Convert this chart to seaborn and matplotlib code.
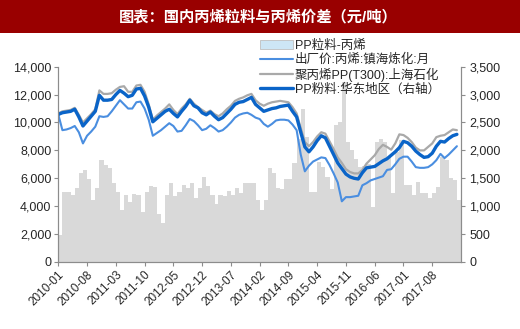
import matplotlib
matplotlib.use("Agg")
import matplotlib.pyplot as plt
from matplotlib.patches import Rectangle, Patch
from matplotlib.lines import Line2D
from matplotlib.ticker import FuncFormatter
import seaborn as sns
import pandas as pd
import numpy as np

sns.set_style("white")
plt.rcParams['font.family'] = ['Liberation Sans', 'Noto Sans CJK SC', 'DejaVu Sans']

title = "图表：国内丙烯粒料与丙烯价差（元/吨）"
series_names = ["PP粒料-丙烯", "出厂价:丙烯:镇海炼化:月", "聚丙烯PP(T300):上海石化", "PP粉料:华东地区（右轴）"]

# month index 0 = 2010-01 ... 97 = 2018-02
tick_pos = [0, 7, 14, 21, 28, 35, 42, 49, 56, 63, 70, 77, 84, 91]
tick_labels = ["2010-01", "2010-08", "2011-03", "2011-10", "2012-05", "2012-12", "2013-07",
               "2014-02", "2014-09", "2015-04", "2015-11", "2016-06", "2017-01", "2017-08"]

spread = [480, 1260, 1260, 1200, 1320, 1600, 1640, 1490, 1120, 1320,
          1830, 1740, 1680, 1410, 1260, 940, 1200, 1080, 1210, 1200,
          900, 1260, 1360, 1350, 860, 690, 1200, 1410, 1190, 1260,
          1380, 1320, 1410, 1140, 1320, 1530, 1360, 1200, 1040, 1200,
          1190, 1270, 1200, 1320, 1230, 1410, 1410, 1410, 1110, 930,
          1110, 1680, 1590, 1330, 1300, 1480, 1480, 1770, 2200, 2750,
          2240, 1260, 1260, 1790, 1710, 1530, 1300, 2450, 2500, 3230,
          2150, 2000, 1850, 1700, 1720, 1750, 990, 2150, 2200, 2150,
          1880, 1230, 1970, 2180, 1380, 1380, 1200, 1440, 1230, 1230,
          1140, 1230, 1350, 1890, 1830, 1500, 1470, 1110]

propylene = [10580, 9450, 9500, 9600, 9750, 9300, 8500, 9050, 9350, 9700,
             10450, 10400, 10450, 10800, 11200, 11600, 11300, 11000, 11000, 11450,
             11500, 11000, 10200, 9050, 9250, 9450, 9700, 9950, 9750, 9350,
             9400, 9800, 10250, 10100, 9800, 9450, 9550, 9800, 9600, 9350,
             9450, 9700, 10000, 10350, 10550, 10650, 10700, 10550, 10350, 10250,
             9900, 9700, 9900, 10150, 10200, 10200, 10150, 9850, 9450, 7700,
             6500, 6900, 7200, 7350, 7500, 7450, 6950, 6350, 5700, 4350,
             4650, 4650, 4700, 4750, 5500, 5650, 5850, 5950, 6050, 6150,
             6600, 6650, 7000, 7400, 7550, 7550, 7200, 6800, 6750, 6750,
             6800, 7000, 7300, 7750, 7450, 7700, 8000, 8300]

pp_t300 = [10650, 10800, 10850, 10900, 11050, 10550, 10000, 10300, 10600, 10950,
           12300, 12050, 12050, 12100, 12350, 12550, 12600, 12200, 12200, 12650,
           12700, 12200, 11300, 10200, 10500, 10750, 11000, 11300, 10900, 10600,
           11000, 11300, 11700, 11350, 11100, 10900, 10700, 10850, 10600, 10450,
           10650, 10950, 11200, 11550, 11700, 11800, 11950, 12050, 11600, 11350,
           11200, 11350, 11450, 11500, 11550, 11500, 11450, 11100, 10650, 9600,
           8600, 8300, 8600, 9000, 9300, 9200, 8650, 8100, 7500, 7100,
           6650, 6450, 6350, 6350, 6600, 7050, 7350, 7650, 8100, 8400,
           8250, 8050, 8500, 9150, 9100, 8900, 8600, 8200, 8000, 8000,
           8250, 8500, 8950, 9050, 9100, 9300, 9500, 9450]

pp_powder = [10580, 10700, 10750, 10800, 10950, 10400, 9750, 10100, 10450, 10800,
             11950, 11600, 11600, 11650, 12000, 12300, 12100, 11850, 11950, 12400,
             12450, 11900, 11100, 10050, 10300, 10550, 10800, 10950, 10650, 10400,
             10800, 11150, 11600, 11200, 11050, 10700, 10550, 10750, 10450, 10200,
             10350, 10650, 10950, 11300, 11450, 11500, 11650, 11800, 11300, 11050,
             10800, 10900, 11000, 11050, 11150, 11200, 11250, 10800, 10400, 9300,
             8250, 7900, 8250, 8700, 9050, 8900, 8300, 7700, 7100, 6700,
             6300, 6100, 6000, 5950, 6400, 6750, 6800, 6850, 7050, 7250,
             7400, 7650, 7900, 8200, 8650, 8550, 8300, 7950, 7700, 7500,
             7550, 7800, 8300, 8650, 8600, 8850, 9050, 9150]

n = len(spread)
month = np.arange(n)
df = pd.DataFrame({"month": month, "bar_x": month + 0.5, "spread": spread,
                   "propylene": propylene, "t300": pp_t300, "powder": pp_powder})

fig = plt.figure(figsize=(5.2, 3.29), dpi=100)
fig.patch.set_facecolor("white")

# title bar
fig.patches.append(Rectangle((0, 1 - 33 / 329), 1, 33 / 329, transform=fig.transFigure,
                             facecolor="#990000", edgecolor="none", zorder=0))
fig.text(0.497, 1 - 16.5 / 329, title, color="white", fontsize=11, fontweight="bold",
         ha="center", va="center")

ax = fig.add_axes([58.3 / 520, 1 - 262 / 329, (461 - 58.3) / 520, (262 - 66.7) / 329])
ax2 = ax.twinx()

# bars on right axis
sns.barplot(data=df, x="bar_x", y="spread", ax=ax2, native_scale=True, width=1.03,
            color="#d9d9d9", saturation=1, linewidth=0, edgecolor="none", errorbar=None)
ax2.set_ylim(0, 3500)
ax2.set_yticks(np.arange(0, 3501, 500))

# lines on left axis
sns.lineplot(data=df, x="month", y="propylene", ax=ax, color="#4a8ee0", linewidth=1.5)
sns.lineplot(data=df, x="month", y="t300", ax=ax, color="#a9a9a9", linewidth=1.6)
sns.lineplot(data=df, x="month", y="powder", ax=ax, color="#0a64c8", linewidth=2.4)
ax.set_ylim(0, 14000)
ax.set_yticks(np.arange(0, 14001, 2000))

ax.set_zorder(ax2.get_zorder() + 1)
ax.patch.set_visible(False)

for a in (ax, ax2):
    a.set_xlim(0, 98)
    a.set_xlabel("")
    a.set_ylabel("")
    a.spines["top"].set_visible(False)
    for s in ("left", "right", "bottom"):
        a.spines[s].set_color("#8c8c8c")
        a.spines[s].set_linewidth(0.8)

fmt = FuncFormatter(lambda v, p: f"{int(v):,}")
ax.yaxis.set_major_formatter(fmt)
ax2.yaxis.set_major_formatter(fmt)
ax.set_xticks(tick_pos)
ax.set_xticklabels(tick_labels, rotation=45, ha="right", rotation_mode="anchor", fontsize=8.5)
ax2.set_xticks(tick_pos)
ax.tick_params(axis="y", which="both", left=True, length=3, color="#8c8c8c", labelsize=9, pad=2)
ax2.tick_params(axis="y", which="both", right=True, length=3, color="#8c8c8c", labelsize=9, pad=3)
ax.tick_params(axis="x", bottom=True, length=3, color="#8c8c8c", pad=2)
ax2.tick_params(axis="x", bottom=False, labelbottom=False)

handles = [Patch(facecolor="#cde6f5", edgecolor="#bfbfbf", linewidth=0.6),
           Line2D([], [], color="#4a8ee0", linewidth=1.5),
           Line2D([], [], color="#a9a9a9", linewidth=1.6),
           Line2D([], [], color="#0a64c8", linewidth=2.4)]
fig.legend(handles, series_names, loc="upper left", bbox_to_anchor=(260 / 520, 1 - 40 / 329),
           frameon=False, fontsize=9, handlelength=2.6, handleheight=0.7, handletextpad=0.2,
           labelspacing=0.12, borderpad=0, borderaxespad=0)

fig.savefig("out.png", dpi=100)
